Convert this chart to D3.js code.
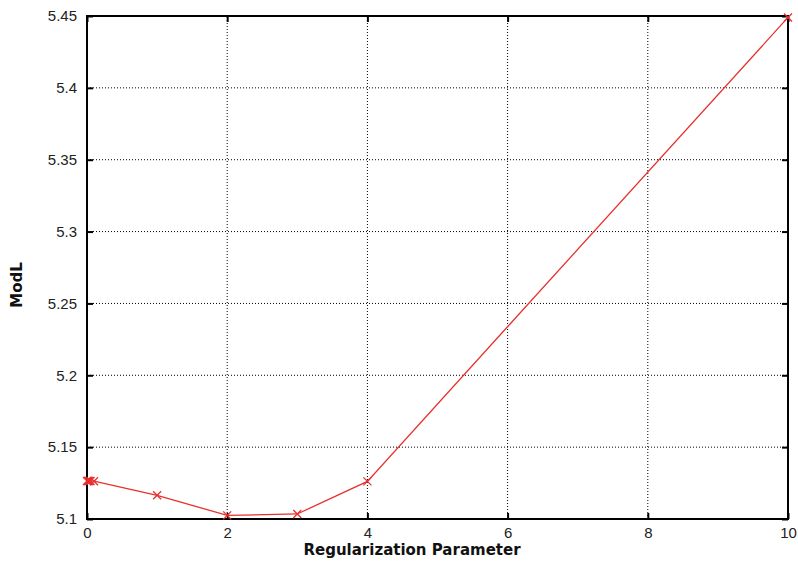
<!DOCTYPE html>
<html><head><meta charset="utf-8">
<script src="https://cdn.jsdelivr.net/npm/d3@7"></script>
<style>body{margin:0;background:#fff;} svg{display:block;}</style>
</head><body>
<svg id="c" width="798" height="561"></svg>
<script>
const xValues = [0, 0.01, 0.02, 0.03, 0.05, 0.1, 1, 2, 3, 4, 10];
const yValues = [5.1265, 5.1265, 5.1265, 5.1264, 5.1264, 5.1263, 5.1165, 5.1025, 5.1035, 5.1262, 5.449];
const xTicks = [0, 2, 4, 6, 8, 10];
const yTicks = [5.1, 5.15, 5.2, 5.25, 5.3, 5.35, 5.4, 5.45];
const xLabel = "Regularization Parameter";
const yLabel = "ModL";

const svg = d3.select("#c");
const m = {l: 87, r: 10, t: 16, b: 42};
const W = 798, H = 561;
const x = d3.scaleLinear().domain([0, 10]).range([m.l, W - m.r]);
const y = d3.scaleLinear().domain([5.1, 5.45]).range([H - m.b, m.t]);

const g = svg.append("g");
// grid
g.selectAll(".gx").data(xTicks.slice(1, -1)).enter().append("line")
  .attr("x1", d => x(d)).attr("x2", d => x(d)).attr("y1", y(5.1)).attr("y2", y(5.45))
  .attr("stroke", "#000").attr("stroke-width", 1).attr("stroke-dasharray", "1,2");
g.selectAll(".gy").data(yTicks.slice(1, -1)).enter().append("line")
  .attr("x1", x(0)).attr("x2", x(10)).attr("y1", d => y(d)).attr("y2", d => y(d))
  .attr("stroke", "#000").attr("stroke-width", 1).attr("stroke-dasharray", "1,2");

// axes
const xAxis = d3.axisBottom(x).tickValues(xTicks).tickFormat(d3.format("d")).tickSizeInner(-6).tickSizeOuter(0).tickPadding(9);
const yAxis = d3.axisLeft(y).tickValues(yTicks).tickFormat(d => d3.format("")(+d.toFixed(2))).tickSizeInner(-6).tickSizeOuter(0).tickPadding(14);
const ax = svg.append("g").attr("transform", `translate(0,${y(5.1)})`).call(xAxis);
const ay = svg.append("g").attr("transform", `translate(${x(0)},0)`).call(yAxis);
const axT = svg.append("g").attr("transform", `translate(0,${y(5.45)})`).call(d3.axisTop(x).tickValues(xTicks).tickFormat("").tickSizeInner(-6).tickSizeOuter(0));
const ayR = svg.append("g").attr("transform", `translate(${x(10)},0)`).call(d3.axisRight(y).tickValues(yTicks).tickFormat("").tickSizeInner(-6).tickSizeOuter(0));
[ax, ay, axT, ayR].forEach(a => {
  a.select(".domain").remove();
  a.selectAll(".tick line").attr("stroke", "#000").attr("stroke-width", 2);
  a.selectAll("text").attr("font-family", "Liberation Sans, Arial, sans-serif").attr("font-size", 15).attr("fill", "#222");
});
ay.selectAll("text").attr("dx", 4);
ax.selectAll("text").attr("dy", "0.65em");

// frame
svg.append("rect").attr("x", x(0)).attr("y", y(5.45)).attr("width", x(10) - x(0)).attr("height", y(5.1) - y(5.45))
  .attr("fill", "none").attr("stroke", "#000").attr("stroke-width", 2);

// line
const data = xValues.map((v, i) => [v, yValues[i]]);
const red = "#e8302e";
svg.append("path").datum(data).attr("fill", "none").attr("stroke", red).attr("stroke-width", 1.3)
  .attr("d", d3.line().x(d => x(d[0])).y(d => y(d[1])));
const s = 4;
svg.selectAll(".mk").data(data).enter().append("path")
  .attr("d", d => `M${x(d[0]) - s},${y(d[1]) - s}L${x(d[0]) + s},${y(d[1]) + s}M${x(d[0]) - s},${y(d[1]) + s}L${x(d[0]) + s},${y(d[1]) - s}`)
  .attr("stroke", red).attr("stroke-width", 1.3).attr("fill", "none");

// labels
svg.append("text").attr("x", 412).attr("y", 555).attr("text-anchor", "middle")
  .attr("font-family", "DejaVu Sans, sans-serif").attr("font-weight", "bold").attr("font-size", 15).attr("fill", "#111").text(xLabel);
svg.append("text").attr("transform", `translate(22,285) rotate(-90)`).attr("text-anchor", "middle")
  .attr("font-family", "DejaVu Sans, sans-serif").attr("font-weight", "bold").attr("font-size", 15).attr("fill", "#111").text(yLabel);
</script>
</body></html>
